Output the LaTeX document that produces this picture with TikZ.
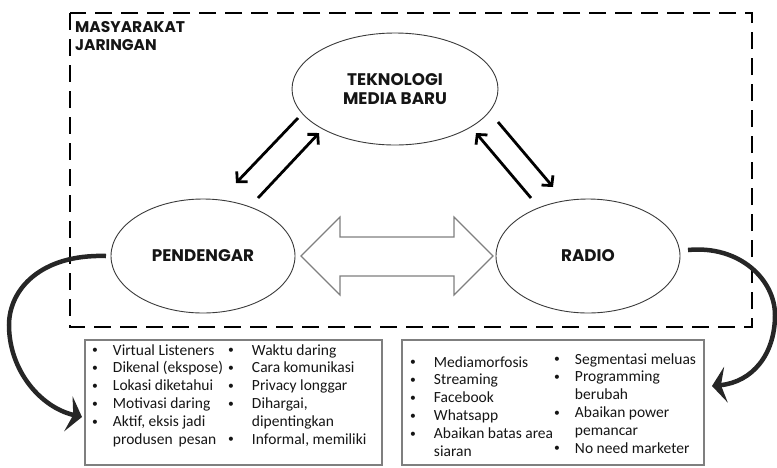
\documentclass[tikz,border=0pt]{standalone}
\usepackage{fontspec}
\setmainfont{Carlito}
\newfontfamily\titlefont{Poppins}
\usetikzlibrary{shapes.geometric,arrows.meta}
\definecolor{boxgray}{HTML}{7F7F7F}
\definecolor{ellgray}{HTML}{3A3A3A}
\definecolor{txt}{HTML}{151515}
\newcommand\bul{\raisebox{1.2pt}{\scalebox{0.75}{\textbullet}}}
\begin{document}
\begin{tikzpicture}[x=1pt,y=-1pt,
  ell/.style={ellipse,draw=ellgray,line width=0.9pt,inner sep=0pt,align=center,
    font=\titlefont\bfseries\fontsize{16.8}{19}\selectfont,text=txt},
  dashbox/.style={draw=black,line width=2.8pt,dash pattern=on 17pt off 9pt},
  listbox/.style={draw=boxgray,line width=1.3pt},
  listcol/.style={inner sep=0pt,anchor=base west,text=txt,
    font=\fontsize{15.5}{17.8}\selectfont},
  thinarrow/.style={line width=2.8pt,-{Straight Barb[length=7pt,width=15pt,line width=2.8pt]}},
  curvearrow/.style={draw=black!85,line width=4.5pt,-{Stealth[length=14pt,width=36pt,inset=5pt]}},
  dblarrow/.style={draw=boxgray,line width=1.2pt,fill=white}
]
\useasboundingbox (0,0) rectangle (777,467);

% dashed frame
\draw[dashbox] (70,13) rectangle (752,327);
\node[inner sep=0pt,anchor=base west,align=left,text=txt,
  font=\titlefont\bfseries\fontsize{15.5}{18}\selectfont] (title) at (75,50) {MASYARAKAT\\JARINGAN};

% ellipses
\node[ell,minimum width=206pt,minimum height=112pt] (tek) at (395,89) {TEKNOLOGI\\MEDIA BARU};
\node[ell,minimum width=184pt,minimum height=114pt] (pen) at (203,256) {PENDENGAR};
\node[ell,minimum width=184pt,minimum height=114pt] (rad) at (588,256) {RADIO};

% straight arrows
\coordinate (a1s) at (298,118); \coordinate (a1e) at (236,183);
\coordinate (a2s) at (258,198); \coordinate (a2e) at (319,133);
\coordinate (a3s) at (498,122); \coordinate (a3e) at (553,187);
\coordinate (a4s) at (531,198); \coordinate (a4e) at (476,133);
\draw[thinarrow] (a1s) -- (a1e);
\draw[thinarrow] (a2s) -- (a2e);
\draw[thinarrow] (a3s) -- (a3e);
\draw[thinarrow] (a4s) -- (a4e);

% double outlined arrow
\draw[dblarrow] (301,256) -- (340,217) -- (340,237) -- (454,237) -- (454,217)
  -- (493,256) -- (454,295) -- (454,276) -- (340,276) -- (340,295) -- cycle;

% list boxes
\draw[listbox] (85,340) rectangle (382,465);
\draw[listbox] (402,340) rectangle (704,465);

\node[listcol] (l1) at (92,355) {\begin{tabular}[t]{@{}l@{\hspace{15pt}}l@{}}
\bul & Virtual Listeners\\
\bul & Dikenal (ekspose)\\
\bul & Lokasi diketahui\\
\bul & Motivasi daring\\
\bul & Aktif, eksis jadi\\
 & produsen\, pesan
\end{tabular}};
\node[listcol] (l2) at (228,355) {\begin{tabular}[t]{@{}l@{\hspace{18pt}}l@{}}
\bul & Waktu daring\\
\bul & Cara komunikasi\\
\bul & Privacy longgar\\
\bul & Dihargai,\\
 & dipentingkan\\
\bul & Informal, memiliki
\end{tabular}};
\node[listcol] (r1) at (410,367) {\begin{tabular}[t]{@{}l@{\hspace{18pt}}l@{}}
\bul & Mediamorfosis\\
\bul & Streaming\\
\bul & Facebook\\
\bul & Whatsapp\\
\bul & Abaikan batas area\\
 & siaran
\end{tabular}};
\node[listcol] (r2) at (554,364) {\begin{tabular}[t]{@{}l@{\hspace{15pt}}l@{}}
\bul & Segmentasi meluas\\
\bul & Programming\\
 & berubah\\
\bul & Abaikan power\\
 & pemancar\\
\bul & No need marketer
\end{tabular}};

% curved arrows
\coordinate (cl) at (106,256); \coordinate (clt) at (82,417);
\coordinate (cr) at (688,250); \coordinate (crt) at (712,386);
\draw[curvearrow] (cl) .. controls (40,254) and (9,290) .. (9,325)
  .. controls (9,370) and (40,407) .. (clt);
\draw[curvearrow] (cr) .. controls (740,245) and (775,280) .. (775,315)
  .. controls (775,355) and (752,382) .. (crt);
\end{tikzpicture}
\end{document}
